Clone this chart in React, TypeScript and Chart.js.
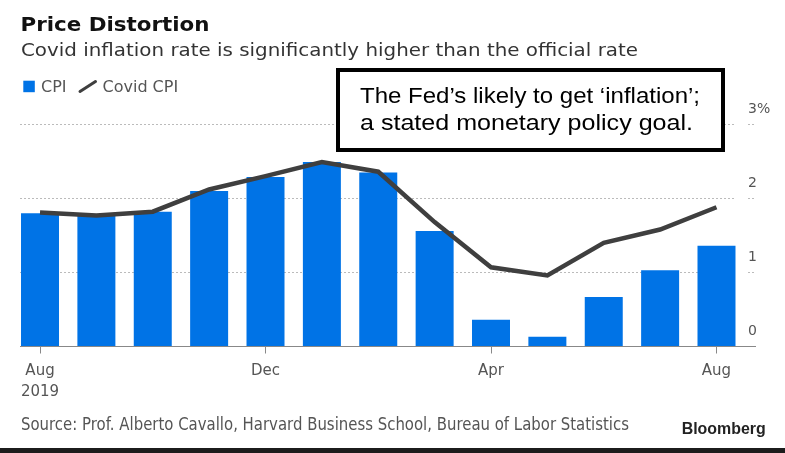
import React, { useEffect, useRef } from "react";
import { Chart, registerables } from "chart.js";

Chart.register(...registerables);

const MONTHS = ["Aug 2019", "Sep", "Oct", "Nov", "Dec", "Jan 2020", "Feb", "Mar", "Apr", "May", "Jun", "Jul", "Aug 2020"];
const CPI = [1.8, 1.77, 1.82, 2.1, 2.29, 2.49, 2.35, 1.56, 0.36, 0.13, 0.67, 1.03, 1.36];
const COVID_CPI = [1.81, 1.77, 1.82, 2.12, 2.3, 2.49, 2.36, 1.68, 1.07, 0.96, 1.4, 1.58, 1.88];
const X_TICK_INDEX = [0, 4, 8, 12];
const X_TICK_LABELS: string[][] = [["Aug", "2019"], ["Dec"], ["Apr"], ["Aug"]];
const Y_TICKS = [0, 1, 2, 3];

const BLUE = "#0073e6";
const LINE = "#3f3f3f";
const FONT = "'DejaVu Sans', Verdana, sans-serif";
const ARIAL = "'Liberation Sans', Arial, sans-serif";

export default function App() {
  const ref = useRef<HTMLCanvasElement | null>(null);

  useEffect(() => {
    if (!ref.current) return;
    const m = document.createElement("canvas").getContext("2d")!;
    m.font = `14px ${FONT}`;
    const widest = Math.max(...Y_TICKS.map((v) => m.measureText(v === 3 ? "3%" : String(v)).width));

    const chart = new Chart(ref.current, {
      type: "bar",
      data: {
        labels: MONTHS,
        datasets: [
          {
            type: "line",
            label: "Covid CPI",
            data: COVID_CPI.map((y, i) => ({ x: i, y })),
            borderColor: LINE,
            backgroundColor: LINE,
            borderWidth: 4.5,
            pointRadius: 0,
            tension: 0,
            order: 0,
          } as any,
          {
            type: "bar",
            label: "CPI",
            data: CPI.map((y, i) => ({ x: i, y })),
            backgroundColor: BLUE,
            borderWidth: 0,
            barPercentage: 0.674,
            categoryPercentage: 1,
            order: 1,
          } as any,
        ],
      },
      options: {
        animation: false,
        responsive: false,
        maintainAspectRatio: false,
        layout: { padding: { left: 20, right: 30, top: 124.3, bottom: 46.5 } },
        plugins: { legend: { display: false }, tooltip: { enabled: false }, title: { display: false } },
        scales: {
          x: {
            type: "linear",
            offset: false,
            min: -0.355,
            max: 12.683,
            afterBuildTicks: (s: any) => {
              s.ticks = X_TICK_INDEX.map((v) => ({ value: v }));
            },
            afterFit: (s: any) => {
              s.height = 60;
            },
            ticks: {
              autoSkip: false,
              maxRotation: 0,
              padding: 6.6,
              color: "#555",
              font: { family: FONT, size: 15, lineHeight: "21.4px" },
              callback: (_v: any, i: number) => X_TICK_LABELS[i],
            },
            grid: { display: true, offset: false, drawOnChartArea: false, drawTicks: true, tickLength: 7, tickColor: "#888" },
            border: { display: true, color: "#888", width: 1 },
          },
          y: {
            position: "right",
            min: 0,
            max: 3,
            afterBuildTicks: (s: any) => {
              s.ticks = Y_TICKS.map((v) => ({ value: v }));
            },
            afterFit: (s: any) => {
              s.width = 0;
            },
            ticks: {
              mirror: true,
              crossAlign: "far",
              padding: widest - 7,
              labelOffset: -15,
              color: "#555",
              font: { family: FONT, size: 14 },
              callback: (v: any) => (v === 3 ? "3%" : String(v)),
            },
            grid: {
              drawTicks: false,
              lineWidth: 1,
              color: (ctx: any) => {
                if (ctx.tick && ctx.tick.value === 0) return "rgba(0,0,0,0)";
                const ca = ctx.chart.chartArea;
                if (!ca) return "#bbb";
                const g = ctx.chart.ctx.createLinearGradient(ca.left, 0, ca.right, 0);
                const w = ca.right - ca.left;
                const a = (w - 20) / w;
                const b = (w - 7) / w;
                g.addColorStop(0, "#bbb");
                g.addColorStop(a, "#bbb");
                g.addColorStop(a, "rgba(187,187,187,0)");
                g.addColorStop(b, "rgba(187,187,187,0)");
                g.addColorStop(b, "#bbb");
                g.addColorStop(1, "#bbb");
                return g;
              },
            },
            border: { display: false, dash: [2, 2] },
          },
        },
      } as any,
    });
    return () => chart.destroy();
  }, []);

  return (
    <div style={{ position: "fixed", left: 0, top: 0, width: 785, height: 453, background: "#fff", overflow: "hidden" }}>
      <canvas ref={ref} width={785} height={453} style={{ position: "absolute", left: 0, top: 0, width: 785, height: 453 }} />
      <svg width={785} height={453} style={{ position: "absolute", left: 0, top: 0 }}>
        <text x={20.5} y={30.7} fontFamily={FONT} fontSize={20} fontWeight={700} fill="#111" textLength={189} lengthAdjust="spacingAndGlyphs">
          Price Distortion
        </text>
        <text x={21} y={56} fontFamily={FONT} fontSize={18} fill="#333" textLength={617} lengthAdjust="spacingAndGlyphs">
          Covid inflation rate is significantly higher than the official rate
        </text>
        <rect x={23.3} y={80.7} width={11.5} height={11.5} fill={BLUE} />
        <text x={41} y={92.3} fontFamily={FONT} fontSize={16} fill="#555">CPI</text>
        <line x1={80} y1={91.5} x2={95.5} y2={81.5} stroke={LINE} strokeWidth={3} strokeLinecap="round" />
        <text x={102.5} y={92.3} fontFamily={FONT} fontSize={16} fill="#555">Covid CPI</text>
        <rect x={338} y={70} width={385} height={80} fill="#fff" stroke="#000" strokeWidth={4} />
        <text x={360} y={102.7} fontFamily={ARIAL} fontSize={22} fill="#000" textLength={340} lengthAdjust="spacingAndGlyphs">
          The Fed’s likely to get ‘inflation’;
        </text>
        <text x={360} y={130} fontFamily={ARIAL} fontSize={22} fill="#000" textLength={333} lengthAdjust="spacingAndGlyphs">
          a stated monetary policy goal.
        </text>
        <text x={21} y={430} fontFamily={FONT} fontSize={17.5} fill="#555" textLength={608} lengthAdjust="spacingAndGlyphs">
          Source: Prof. Alberto Cavallo, Harvard Business School, Bureau of Labor Statistics
        </text>
        <text x={681.7} y={434} fontFamily={ARIAL} fontSize={16} fontWeight={700} fill="#222" textLength={84} lengthAdjust="spacingAndGlyphs">
          Bloomberg
        </text>
        <rect x={0} y={448} width={785} height={5} fill="#1c1c1c" />
      </svg>
    </div>
  );
}
